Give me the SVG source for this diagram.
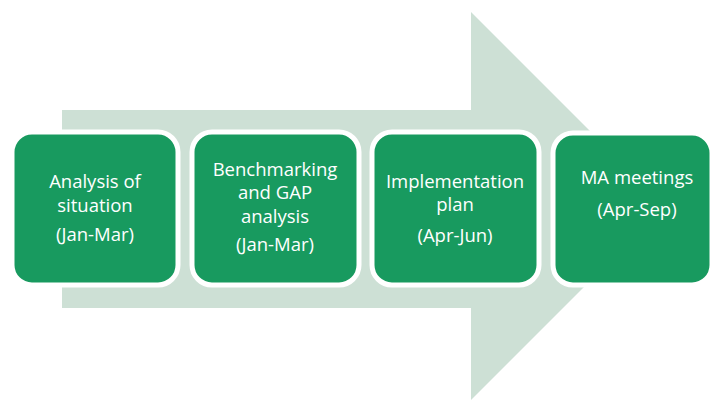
<svg xmlns="http://www.w3.org/2000/svg" width="713" height="401" viewBox="0 0 713 401">
<style>
.box{fill:#189a5f;stroke:#ffffff;stroke-width:5}
.t{font-family:"Open Sans","Liberation Sans",sans-serif;font-size:18.5px;fill:#ffffff;text-anchor:middle}
</style>
<rect width="713" height="401" fill="#ffffff"/>
<g id="arrow">
<polygon points="62,110 471,110 471,12 665,206 471,400 471,308 62,308" fill="#cde0d5"/>
</g>
<g id="node1">
<rect class="box" x="12" y="132" width="166" height="153" rx="20"/>
<text class="t" x="95" y="188">Analysis of</text>
<text class="t" x="95" y="212">situation</text>
<text class="t" x="95" y="241">(Jan-Mar)</text>
</g>
<g id="node2">
<rect class="box" x="192" y="132" width="167" height="153" rx="20"/>
<text class="t" x="275" y="176">Benchmarking</text>
<text class="t" x="275" y="199">and GAP</text>
<text class="t" x="275" y="223">analysis</text>
<text class="t" x="275" y="251">(Jan-Mar)</text>
</g>
<g id="node3">
<rect class="box" x="372" y="132" width="167" height="153" rx="20"/>
<text class="t" x="455" y="188">Implementation</text>
<text class="t" x="455" y="211">plan</text>
<text class="t" x="455" y="242">(Apr-Jun)</text>
</g>
<g id="node4">
<rect class="box" x="553" y="133" width="159" height="152" rx="20"/>
<text class="t" x="637" y="184">MA meetings</text>
<text class="t" x="637" y="216">(Apr-Sep)</text>
</g>
<g id="connectors"></g>
</svg>
